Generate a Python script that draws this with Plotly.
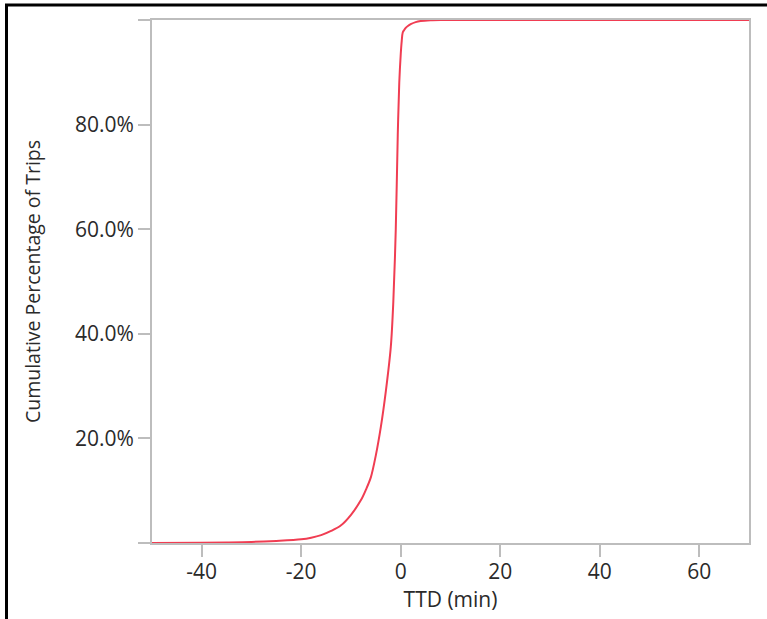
import plotly.graph_objects as go

# Cumulative distribution of TTD (minutes) across trips
ttd_min = [-50, -40, -35, -30, -25, -20, -18, -16, -14, -12, -10, -8, -7, -6,
           -5, -4, -3, -2, -1.5, -1, -0.6, -0.3, 0, 0.2, 0.4, 0.7, 1, 1.5, 2,
           3, 4, 6, 8, 12, 70]
cum_share = [0, 0.0003, 0.001, 0.002, 0.004, 0.007, 0.010, 0.015, 0.023,
             0.034, 0.054, 0.082, 0.102, 0.126, 0.168, 0.222, 0.29, 0.375,
             0.46, 0.60, 0.78, 0.88, 0.935, 0.96, 0.976, 0.981, 0.985, 0.989,
             0.992, 0.996, 0.998, 0.9995, 1.0, 1.0, 1.0]

y_ticks = [0, 0.2, 0.4, 0.6, 0.8, 1.0]
y_tick_text = ["", "20.0%", "40.0%", "60.0%", "80.0%", ""]
x_ticks = [-40, -20, 0, 20, 40, 60]
x_tick_text = ["-40", "-20", "0", "20", "40", "60"]

axis_grey = "#bdbdbd"
text_col = "#2a2a2a"
font_family = "Open Sans, Noto Sans, sans-serif"

fig = go.Figure()
fig.add_trace(go.Scatter(
    x=ttd_min, y=cum_share, mode="lines",
    line=dict(color="#f03d52", width=2, shape="spline", smoothing=0.9),
    cliponaxis=False, hoverinfo="skip", showlegend=False,
))

fig.update_layout(
    width=767, height=619,
    margin=dict(l=152, r=18, t=20, b=76),
    paper_bgcolor="white", plot_bgcolor="white",
    font=dict(family=font_family, size=21, color=text_col),
    xaxis=dict(
        range=[-50, 70], tickvals=x_ticks, ticktext=x_tick_text,
        showgrid=False, zeroline=False,
        showline=True, linecolor=axis_grey, linewidth=2, mirror=True,
        ticks="outside", ticklen=12, tickwidth=2, tickcolor=axis_grey,
        ticklabelstandoff=-3,
        layer="below traces",
        title=dict(text="TTD (min)", standoff=0, font=dict(size=21)),
    ),
    yaxis=dict(
        range=[0, 1], tickvals=y_ticks, ticktext=y_tick_text,
        showgrid=False, zeroline=False,
        showline=True, linecolor=axis_grey, linewidth=2, mirror=True,
        ticks="outside", ticklen=12, tickwidth=2, tickcolor=axis_grey,
        layer="below traces",
        title=dict(text="Cumulative Percentage of Trips", standoff=29,
                   font=dict(size=19.5)),
    ),
    shapes=[
        # outer frame on the left and top edges
        dict(type="line", xref="paper", yref="paper",
             x0=(6.5 - 152) / 597, x1=(6.5 - 152) / 597,
             y0=(543 - 4) / 523, y1=(543 - 640) / 523,
             line=dict(color="black", width=3)),
        dict(type="line", xref="paper", yref="paper",
             x0=(5 - 152) / 597, x1=(780 - 152) / 597,
             y0=(543 - 5) / 523, y1=(543 - 5) / 523,
             line=dict(color="black", width=3)),
    ],
)

fig.write_html("out.html")
